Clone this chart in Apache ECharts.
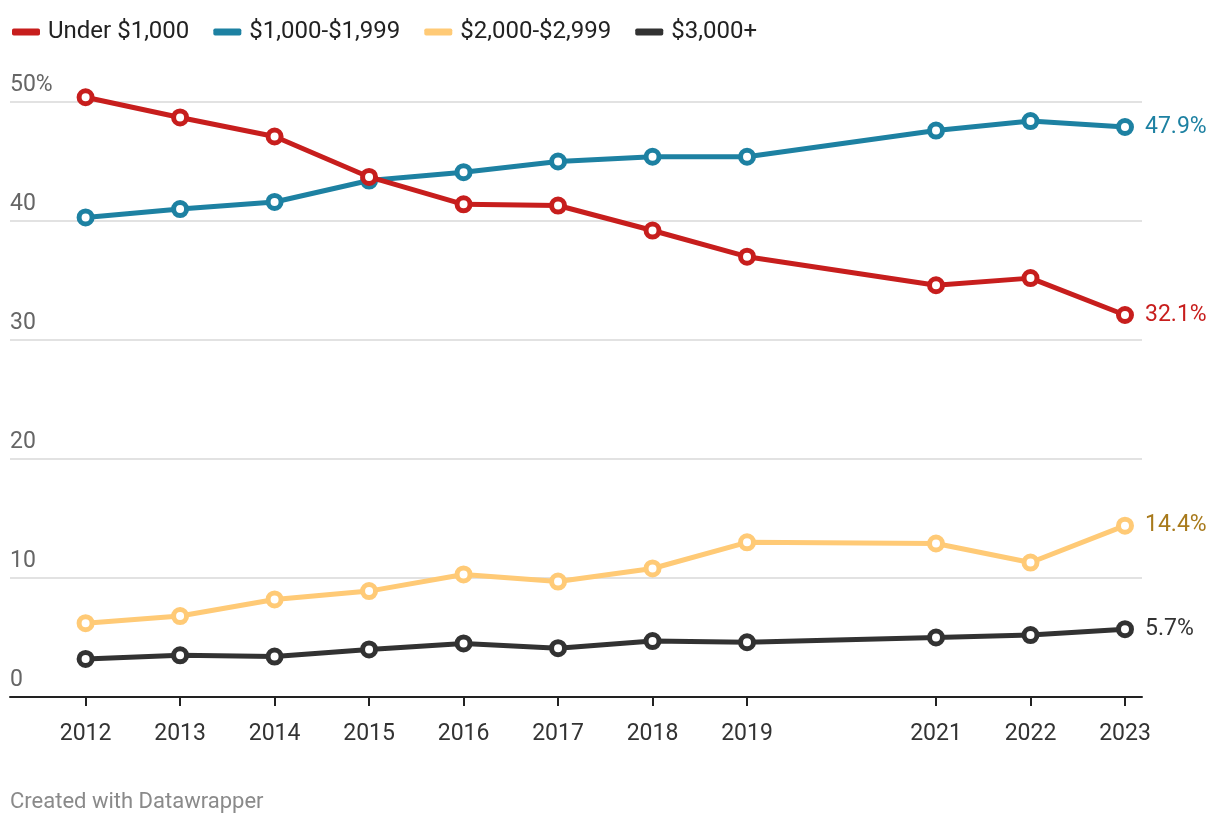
<!DOCTYPE html>
<html>
<head>
<meta charset="utf-8">
<script src="https://cdn.jsdelivr.net/npm/echarts@6/dist/echarts.min.js"></script>
<style>
html,body{margin:0;padding:0;background:#fff;}
#chart{width:1220px;height:824px;}
</style>
</head>
<body>
<div id="chart"></div>
<script>
const years = [2012, 2013, 2014, 2015, 2016, 2017, 2018, 2019, 2021, 2022, 2023];
const seriesNames = ['Under $1,000', '$1,000-$1,999', '$2,000-$2,999', '$3,000+'];
const under1000 = [50.4, 48.7, 47.1, 43.7, 41.4, 41.3, 39.2, 37.0, 34.6, 35.2, 32.1];
const from1000 = [40.3, 41.0, 41.6, 43.4, 44.1, 45.0, 45.4, 45.4, 47.6, 48.4, 47.9];
const from2000 = [6.2, 6.8, 8.2, 8.9, 10.3, 9.7, 10.8, 13.0, 12.9, 11.3, 14.4];
const over3000 = [3.2, 3.5, 3.4, 4.0, 4.5, 4.1, 4.7, 4.6, 5.0, 5.2, 5.7];
const yTicks = [0, 10, 20, 30, 40, 50];

const colors = ['#c71e1d', '#1d81a2', '#ffca76', '#323232'];
const labelColors = ['#c71e1d', '#1d81a2', '#a87a1c', '#333333'];
const allValues = [under1000, from1000, from2000, over3000];

const chart = echarts.init(document.getElementById('chart'), null, {renderer: 'canvas'});
const FONT = 'Roboto';

const series = allValues.map((vals, i) => ({
  name: seriesNames[i],
  type: 'line',
  data: years.map((y, k) => [y, vals[k]]),
  clip: false,
  symbol: 'circle',
  symbolSize: 13,
  lineStyle: {color: colors[i], width: 5},
  itemStyle: {color: '#fff', borderColor: colors[i], borderWidth: 5},
  emphasis: {disabled: true},
  z: 10 - i,
  endLabel: {
    show: true,
    distance: 20,
    fontFamily: FONT,
    fontSize: 23,
    color: labelColors[i],
    formatter: p => p.value[1].toFixed(1) + '%'
  }
}));

chart.setOption({
  animation: false,
  textStyle: {fontFamily: FONT},
  legend: {
    left: 7,
    top: 15,
    itemWidth: 28,
    itemHeight: 7,
    itemGap: 24,
    icon: 'roundRect',
    textStyle: {fontFamily: FONT, fontSize: 24, color: '#222', padding: [0, 0, 0, 3]},
    data: seriesNames.map((n, i) => ({name: n, itemStyle: {color: colors[i], borderWidth: 0}}))
  },
  grid: {left: 10, right: 78, top: 102, bottom: 127, containLabel: false},
  xAxis: {
    type: 'value',
    min: 2011.2,
    max: 2023.18,
    splitLine: {show: false},
    axisLine: {show: true, lineStyle: {color: '#222', width: 2}},
    axisTick: {show: true, customValues: years, length: 9, lineStyle: {color: '#222', width: 2}},
    axisLabel: {
      customValues: years,
      fontFamily: FONT, fontSize: 23, color: '#333', margin: 26,
      formatter: v => String(v)
    }
  },
  yAxis: {
    type: 'value',
    min: 0,
    max: 50,
    interval: 10,
    axisLine: {show: false},
    axisTick: {show: false},
    splitLine: {lineStyle: {color: '#d9d9d9', width: 1.5}},
    axisLabel: {
      inside: true,
      margin: 0,
      align: 'left',
      verticalAlign: 'bottom',
      padding: [0, 0, 5, 0],
      fontFamily: FONT, fontSize: 23, color: '#666',
      formatter: v => (v === 50 ? v + '%' : String(v))
    }
  },
  graphic: [{
    type: 'text',
    left: 10,
    top: 791,
    style: {text: 'Created with Datawrapper', fontFamily: FONT, fontSize: 22, fill: '#8a8a8a'}
  }],
  series: series
});
</script>
</body>
</html>
